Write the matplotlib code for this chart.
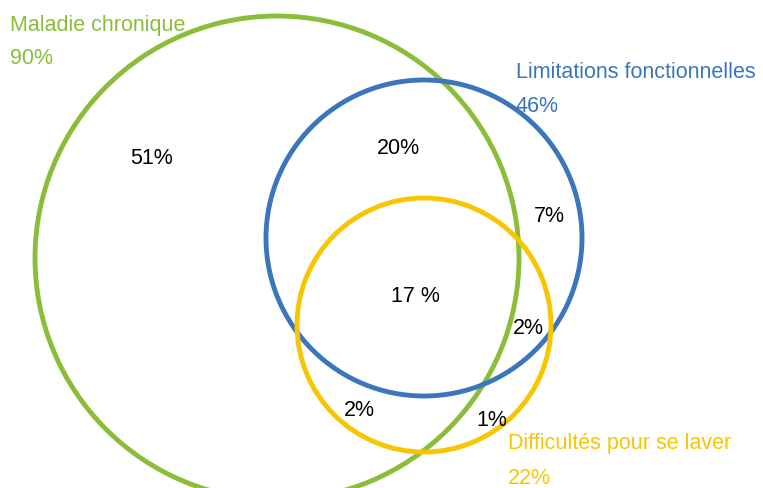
import matplotlib
matplotlib.use("Agg")
import matplotlib.pyplot as plt
from matplotlib.patches import Circle

# ── data ──────────────────────────────────────────────────────────────────────
set_names = ["Maladie chronique", "Limitations fonctionnelles", "Difficultés pour se laver"]
set_totals = ["90%", "46%", "22%"]
region_labels = ["51%", "20%", "7%", "17 %", "2%", "2%", "1%"]

# ── layout (pixel coords of the original picture) ────────────────────────────
COLORS = ["#8bbd3a", "#3b76bd", "#f7c600"]
circle_xy = [(277, 259), (424, 239), (424, 326)]
circle_r = [242, 158, 127]
name_xy = [(10, 25), (516, 72), (508, 444)]
region_xy = [(152, 158), (398, 148), (549, 217), (415, 297),
             (528, 328), (359, 411), (492, 420)]

plt.rcParams["font.family"] = ["Liberation Sans Narrow", "Liberation Sans", "DejaVu Sans"]

fig = plt.figure(figsize=(7.63, 4.89), dpi=100)
ax = fig.add_axes([0, 0, 1, 1])
ax.set_xlim(0, 763)
ax.set_ylim(489, 0)
ax.set_aspect("equal")
ax.axis("off")

for (cx, cy), r, c in zip(circle_xy, circle_r, COLORS):
    ax.add_patch(Circle((cx, cy), r, fill=False, edgecolor=c, linewidth=3.5))

for (x, y), name, tot, c in zip(name_xy, set_names, set_totals, COLORS):
    ax.text(x, y, name, color=c, fontsize=15.5, ha="left", va="center")
    ax.text(x, y + 34, tot, color=c, fontsize=15.5, ha="left", va="center")

for (x, y), lab in zip(region_xy, region_labels):
    ax.text(x, y, lab, color="black", fontsize=15.5, ha="center", va="center")

fig.savefig("out.png", dpi=100)
